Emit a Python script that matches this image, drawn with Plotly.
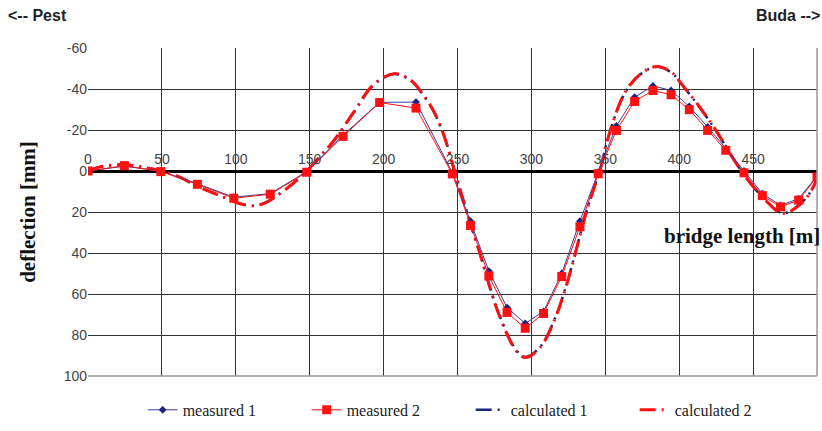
import plotly.graph_objects as go

# measured positions along bridge [m]
meas_x = [0, 24.6, 49.3, 74, 98.6, 123.3, 148, 172.6, 197.3, 221.9, 246.5,
          258.8, 271.2, 283.5, 295.8, 308.2, 320.5, 332.8, 345.2, 357.5, 369.8,
          382.2, 394.5, 406.8, 419.2, 431.5, 443.8, 456.2, 468.5, 480.8, 493.2]
meas1_y = [0, -2.3, 0, 6.2, 12.8, 11.0, 0.3, -17.5, -33.5, -33.6, 0.8,
           24.5, 48.8, 66.6, 74.4, 68.5, 50.0, 24.5, 0.5, -22.0, -36.0,
           -41.5, -39.3, -31.5, -21.5, -11.0, 0.0, 11.0, 16.8, 13.5, 2.5]
meas2_y = [0, -2.6, 0.3, 6.5, 13.3, 11.3, 0.6, -16.9, -33.4, -30.7, 1.4,
           26.6, 51.2, 69.0, 76.7, 69.5, 51.5, 27.2, 1.3, -19.8, -33.9,
           -39.3, -37.2, -29.9, -19.8, -10.1, 0.9, 12.0, 17.5, 14.2, 2.9]

# calculated curves
calc_x = [0, 8, 25, 40, 50, 62, 74, 89, 103, 112, 120, 128, 138, 148, 158, 166,
          180, 193, 207, 218, 226, 234, 241, 248, 255, 265, 278, 290, 296, 306,
          316, 324, 338, 347, 351, 363, 374, 385, 395, 401, 415, 426, 437, 446,
          458, 470, 485, 493.2]
calc1_y = [0, -2.0, -3.0, -1.5, 0, 3.0, 7.4, 11.9, 15.9, 16.9, 15.4, 11.9, 6.5, 0,
           -8.0, -14.4, -28.8, -41.8, -47.3, -44.3, -37.8, -28.8, -16.9, 0, 16.9,
           39.8, 69.7, 87.7, 90.7, 85.7, 71.7, 54.8, 17.9, -2.0, -14.0, -37.8,
           -47.3, -50.8, -47.8, -42.8, -29.9, -18.4, -5.5, 4.0, 13.9, 20.6, 13.9, 4.0]
calc2_y = [0, -2.0, -3.1, -1.5, 0, 3.0, 7.5, 12.0, 16.0, 17.0, 15.5, 12.0, 6.5, 0,
           -8.0, -14.5, -29.0, -42.0, -47.5, -44.5, -38.0, -29.0, -17.0, 0, 17.0,
           40.0, 70.0, 88.0, 91.0, 86.0, 72.0, 55.0, 18.0, -2.0, -14.0, -38.0,
           -47.5, -51.0, -48.0, -43.0, -30.0, -18.5, -5.5, 4.0, 14.0, 20.7, 14.0, 4.0]

x_ticks = [0, 50, 100, 150, 200, 250, 300, 350, 400, 450]
y_ticks = [-60, -40, -20, 0, 20, 40, 60, 80, 100]

NAVY = "#1a237e"
RED = "#ff1010"
SERIF = "Liberation Serif, Times New Roman, serif"
SANS = "Liberation Sans, Arial, sans-serif"

fig = go.Figure()
fig.add_trace(go.Scatter(x=calc_x, y=calc1_y, mode="lines", name="calculated 1",
                         line=dict(color=NAVY, width=2.5, dash="16px,6px,2px,6px", shape="spline"),
                         legendrank=3))
fig.add_trace(go.Scatter(x=calc_x, y=calc2_y, mode="lines", name="calculated 2",
                         line=dict(color=RED, width=3, dash="16px,6px,2px,6px", shape="spline"),
                         legendrank=4))
fig.add_trace(go.Scatter(x=meas_x, y=meas1_y, mode="lines+markers", name="measured 1",
                         line=dict(color="#3a3aa0", width=1),
                         marker=dict(symbol="diamond", size=6, color=NAVY),
                         legendrank=1))
fig.add_trace(go.Scatter(x=meas_x, y=meas2_y, mode="lines+markers", name="measured 2",
                         line=dict(color=RED, width=1),
                         marker=dict(symbol="square", size=9, color=RED),
                         legendrank=2))

fig.update_layout(
    width=822, height=431,
    margin=dict(l=88, r=5, t=48, b=54),
    paper_bgcolor="white", plot_bgcolor="white",
    showlegend=True,
    legend=dict(orientation="h", x=0.075, xanchor="left", y=-0.10, yanchor="middle",
                font=dict(family=SERIF, size=16, color="#222"),
                traceorder="normal", itemwidth=30, entrywidth=119,
                bgcolor="rgba(0,0,0,0)"),
    xaxis=dict(range=[0, 493.2], tickvals=x_ticks, ticktext=[str(v) for v in x_ticks],
               showgrid=True, gridcolor="#333", gridwidth=1,
               anchor="free", position=0.625, side="top",
               showline=False, zeroline=False, ticks="", ticklabelstandoff=4,
               tickfont=dict(family=SANS, size=14, color="#444")),
    yaxis=dict(range=[100, -60], tickvals=y_ticks, ticktext=[str(v) for v in y_ticks],
               showgrid=True, gridcolor="#333", gridwidth=1,
               zeroline=True, zerolinecolor="#000", zerolinewidth=2.5,
               ticks="", tickfont=dict(family=SANS, size=14, color="#444"),
               title=dict(text="<b>deflection [mm]</b>", standoff=22,
                          font=dict(family=SERIF, size=21, color="#111"))),
    annotations=[
        dict(text="<b>bridge length [m]</b>", xref="paper", yref="paper", x=1.0, y=0.4255,
             xanchor="right", yanchor="middle", xshift=5, showarrow=False,
             font=dict(family=SERIF, size=21, color="#111")),
        dict(text="<b>&lt;-- Pest</b>", xref="paper", yref="paper", x=0, y=1.10,
             xanchor="left", yanchor="middle", xshift=-82, showarrow=False,
             font=dict(family=SANS, size=16, color="#222")),
        dict(text="<b>Buda --&gt;</b>", xref="paper", yref="paper", x=1.0, y=1.10,
             xanchor="right", yanchor="middle", xshift=5, showarrow=False,
             font=dict(family=SANS, size=16, color="#222")),
    ],
    shapes=[
        dict(type="line", xref="paper", yref="paper", x0=1, x1=1, y0=0, y1=1,
             line=dict(color="#999", width=1.5)),
        dict(type="line", xref="paper", yref="paper", x0=0, x1=1, y0=0, y1=0,
             line=dict(color="#999", width=1.5)),
    ],
)

fig.write_html("out.html", config={"displayModeBar": False},
               post_script="document.body.style.margin='0';")
